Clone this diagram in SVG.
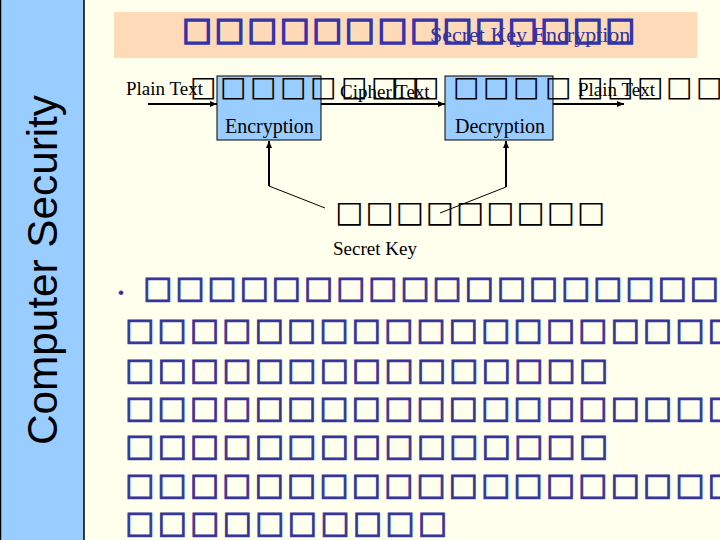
<svg xmlns="http://www.w3.org/2000/svg" width="720" height="540" viewBox="0 0 720 540">
<defs>
<marker id="ah" markerWidth="8" markerHeight="8" refX="7" refY="4" orient="auto" markerUnits="userSpaceOnUse"><path d="M0,1 L7,4 L0,7 z" fill="#000"/></marker>
<style>
.serif{font-family:"Liberation Serif","Times New Roman",serif}
.sq{font-family:"DejaVu Sans",sans-serif}
.blue{fill:#333399}
.blk{fill:#000}
.conn{stroke:#000;stroke-width:2;fill:none}
.thin{stroke:#000;stroke-width:1;fill:none}
.proc{fill:#99CCFF;stroke:#000;stroke-width:1}
</style>
</defs>
<rect x="0" y="0" width="720" height="540" fill="#FFFFEE"/>
<g id="sidebar">
<rect x="0.5" y="-1" width="83.5" height="542" fill="#99CCFF" stroke="#000" stroke-width="1.5"/>
<text transform="translate(57,270) rotate(-90)" text-anchor="middle" font-family="Liberation Sans, Arial, sans-serif" font-size="43" textLength="350" lengthAdjust="spacingAndGlyphs" fill="#000">Computer Security</text>
</g>
<g id="title">
<rect x="114" y="12" width="583" height="46" fill="#FFDAB9"/>
<text class="sq" x="182" y="40" font-size="32" textLength="453.6" lengthAdjust="spacing" fill="#3333AA" stroke="#3333AA" stroke-width="1.5">□□□□□□□□□□□□□□</text>
<text class="serif blue" x="430" y="42" font-size="22">Secret Key Encryption</text>
</g>
<g id="encryption">
<rect class="proc" x="217" y="76" width="104" height="64"/>
<text class="serif blk" x="225" y="133" font-size="20">Encryption</text>
</g>
<g id="decryption">
<rect class="proc" x="445" y="76" width="108" height="64"/>
<text class="serif blk" x="455" y="133" font-size="20">Decryption</text>
</g>
<g id="connectors">
<line class="conn" x1="148" y1="104" x2="217" y2="104" marker-end="url(#ah)"/>
<line class="conn" x1="321" y1="104" x2="445" y2="104" marker-end="url(#ah)"/>
<line class="conn" x1="553" y1="104" x2="624" y2="104" marker-end="url(#ah)"/>
<line class="conn" x1="269" y1="186" x2="269" y2="141" marker-end="url(#ah)"/>
<line class="conn" x1="506" y1="187" x2="506" y2="141" marker-end="url(#ah)"/>
<line class="thin" x1="269" y1="186" x2="325" y2="208"/>
<line class="thin" x1="506" y1="187" x2="440" y2="213"/>
</g>
<g id="labels">
<text class="serif blk" x="126" y="95" font-size="19">Plain Text</text>
<text class="serif blk" x="340" y="98" font-size="19">Cipher Text</text>
<text class="serif blk" x="578" y="96" font-size="19">Plain Text</text>
<text class="sq blk" x="190 220 250 280 310 341 371 392 413 453 483 513 545 577 607 637 666 696" y="96" font-size="28">□□□□□□□□□□□□□□□□□□</text>
</g>
<g id="secret-key">
<text class="sq blk" x="335" y="222" font-size="30" textLength="270" lengthAdjust="spacing">□□□□□□□□□</text>
<text class="serif blk" x="333" y="255" font-size="19">Secret Key</text>
</g>
<g id="body" class="sq blue" font-size="31" stroke="#333399" stroke-width="0.9">
<text x="118" y="298" font-family="Liberation Sans, sans-serif" font-size="17" stroke="none">•</text>
<text x="143" y="298" textLength="608" lengthAdjust="spacing">□□□□□□□□□□□□□□□□□□□</text>
<text x="125" y="340" textLength="611.8" lengthAdjust="spacing">□□□□□□□□□□□□□□□□□□□</text>
<text x="125" y="380" textLength="483" lengthAdjust="spacing">□□□□□□□□□□□□□□□</text>
<text x="125" y="418" textLength="611.8" lengthAdjust="spacing">□□□□□□□□□□□□□□□□□□□</text>
<text x="125" y="456" textLength="483" lengthAdjust="spacing">□□□□□□□□□□□□□□□</text>
<text x="125" y="495" textLength="611.8" lengthAdjust="spacing">□□□□□□□□□□□□□□□□□□□</text>
<text x="125" y="533" textLength="322" lengthAdjust="spacing">□□□□□□□□□□</text>
</g>
</svg>
